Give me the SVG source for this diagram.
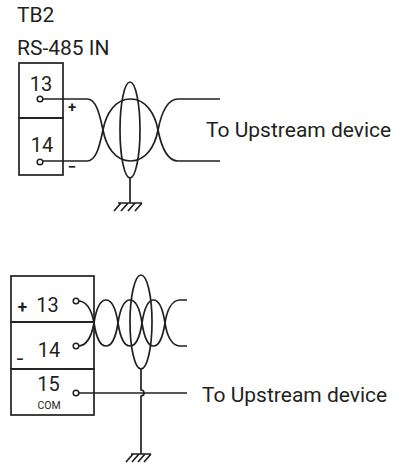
<svg xmlns="http://www.w3.org/2000/svg" width="406" height="466" viewBox="0 0 406 466">
<style>
text{font-family:Roboto,"Liberation Sans",sans-serif;fill:#231f20}
.lbl{font-size:21px}
.num{font-size:20px;text-anchor:middle}
.sign{font-size:15px;text-anchor:middle;font-weight:bold}
.com{font-size:10.5px;text-anchor:middle}
.box{fill:none;stroke:#231f20;stroke-width:1.7}
.w{fill:none;stroke:#231f20;stroke-width:1.7}
.t{fill:#fff;stroke:#231f20;stroke-width:1.5}
</style>
<rect width="406" height="466" fill="#fff"/>

<g id="title">
<text class="lbl" x="17" y="22">TB2</text>
<text class="lbl" x="17" y="55">RS-485 IN</text>
</g>

<g id="tb2-top">
<rect class="box" x="19" y="63" width="44" height="55"/>
<rect class="box" x="19" y="118" width="44" height="57"/>
<text class="num" x="41" y="91">13</text>
<text class="num" x="42" y="152">14</text>
<text class="sign" x="72" y="112">+</text>
<text class="sign" x="72" y="172">−</text>
</g>

<g id="tb-bottom">
<rect class="box" x="11" y="276" width="83" height="46"/>
<rect class="box" x="11" y="322" width="83" height="47"/>
<rect class="box" x="11" y="369" width="83" height="46"/>
<text class="sign" x="22.5" y="313" style="font-size:17px">+</text>
<text class="num" x="47.5" y="312">13</text>
<text class="sign" x="20" y="364" style="font-size:14px">−</text>
<text class="num" x="49" y="357">14</text>
<text class="num" x="48.5" y="391">15</text>
<text class="com" x="49" y="409">COM</text>
</g>

<g id="connectors">
<!-- top twisted pair -->
<path class="w" d="M42,99 H87 C97,99 100,117 103,130 C106,146 115,161 130.5,161 C146,161 155,146 158,130 C161,115 166,99 178,99 H220"/>
<path class="w" d="M42,161 H87 C97,161 100,143 103,130 C106,114 115,99 130.5,99 C146,99 155,114 158,130 C161,145 166,161 178,161 H220"/>
<ellipse class="w" cx="130" cy="130" rx="10" ry="48"/>
<path class="w" d="M130,178 V203"/>
<path class="w" d="M118,203 H142 M121,203 L114,211 M128,203 L121,211 M135,203 L128,211 M142,203 L135,211"/>

<!-- bottom twisted pair -->
<path class="w" d="M78,301 C88,301 92,312 94,323 C96,336 100,346 106,346 C112,346 116,336 118,323 C120,310 124,300 130,300 C136,300 140,310 142,323 C144,336 148,346 153.5,346 C159,346 163,336 165,323 C167,310 172,300 180,300 H187"/>
<path class="w" d="M78,346 C88,346 92,334 94,323 C96,310 100,300 106,300 C112,300 116,310 118,323 C120,336 124,346 130,346 C136,346 140,336 142,323 C144,310 148,300 153.5,300 C159,300 163,310 165,323 C167,336 172,346 180,346 H187"/>
<ellipse class="w" cx="141" cy="322" rx="11" ry="47"/>
<path class="w" d="M78,393 H187"/>
<path class="w" d="M141,369 V390 A3,3 0 0 1 141,396 V454"/>
<path class="w" d="M131,454 H151 M133,454 L126,462 M139,454 L132,462 M145,454 L138,462 M151,454 L144,462"/>
</g>

<g id="terminals">
<circle class="t" cx="40" cy="99" r="2.8"/>
<circle class="t" cx="40" cy="162" r="2.8"/>
<circle class="t" cx="76" cy="301" r="2.8"/>
<circle class="t" cx="76" cy="346" r="2.8"/>
<circle class="t" cx="76" cy="393" r="2.8"/>
</g>

<g id="label-top">
<text class="lbl" x="206" y="137">To Upstream device</text>
</g>

<g id="label-bottom">
<text class="lbl" x="202" y="402">To Upstream device</text>
</g>
</svg>
